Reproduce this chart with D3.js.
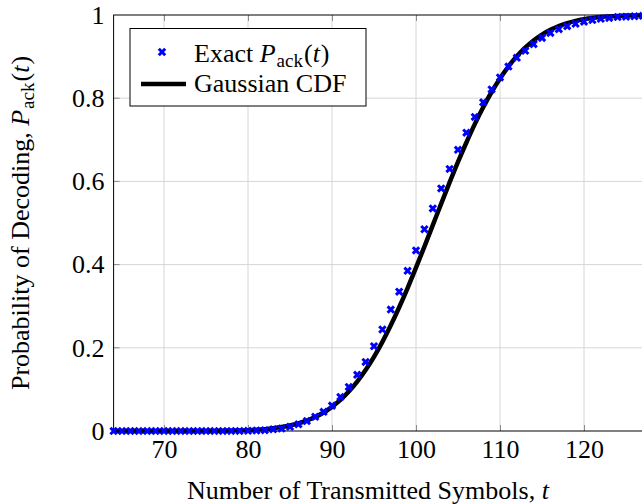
<!DOCTYPE html>
<html>
<head>
<meta charset="utf-8">
<script src="https://cdn.jsdelivr.net/npm/d3@7"></script>
<style>
  html, body { margin: 0 ; padding: 0 ; background: #ffffff ; }
  svg { display: block ; font-family: "Liberation Serif", "Times New Roman", serif ; }
</style>
</head>
<body>
<div id="chart"></div>
<script>

// transmitted symbols t
const tValues = [
    64, 65, 66, 67, 68, 69, 70, 71, 72, 73, 74, 75, 76, 77, 78, 79,
    80, 81, 82, 83, 84, 85, 86, 87, 88, 89, 90, 91, 92, 93, 94, 95,
    96, 97, 98, 99, 100, 101, 102, 103, 104, 105, 106, 107, 108, 109, 110, 111,
    112, 113, 114, 115, 116, 117, 118, 119, 120, 121, 122, 123, 124, 125, 126, 127
] ;

// exact P_ack(t) (markers)
const exactValues = [
    0, 0, 0, 0, 0, 0, 0, 0, 0, 0, 0, 0, 0, 0, 0.0001, 0.0002,
    0.0005, 0.001, 0.002, 0.004, 0.006, 0.010, 0.016, 0.024, 0.034, 0.046, 0.061, 0.082, 0.106, 0.135, 0.166, 0.204,
    0.244, 0.292, 0.335, 0.385, 0.434, 0.485, 0.535, 0.583, 0.630, 0.676, 0.717, 0.755, 0.790, 0.821, 0.850, 0.876,
    0.897, 0.914, 0.930, 0.945, 0.957, 0.966, 0.973, 0.979, 0.984, 0.988, 0.991, 0.993, 0.995, 0.996, 0.997, 0.998
] ;

// gaussian CDF approximation (line)
const gaussValues = [
    0, 0, 0, 0, 0, 0.00001, 0.00002, 0.00003, 0.00005, 0.00008, 0.00013, 0.0002, 0.0003, 0.0006, 0.0009, 0.0013,
    0.0021, 0.0031, 0.0045, 0.0066, 0.0094, 0.0132, 0.0183, 0.0249, 0.0335, 0.0445, 0.0581, 0.0747, 0.0948, 0.1186, 0.1464, 0.1783,
    0.2142, 0.2540, 0.2974, 0.3436, 0.3925, 0.4431, 0.4948, 0.5466, 0.5975, 0.6469, 0.6936, 0.7377, 0.7781, 0.8149, 0.8476, 0.8761,
    0.9007, 0.9216, 0.9389, 0.9530, 0.9645, 0.9735, 0.9805, 0.9859, 0.9900, 0.9930, 0.9951, 0.9967, 0.9978, 0.9985, 0.9990, 0.9994
] ;

const xTicks = [70, 80, 90, 100, 110, 120] ;
const yTicks = [0, 0.2, 0.4, 0.6, 0.8, 1] ;
const xDomain = [64, 127] ;
const yDomain = [0, 1] ;

const width = 642, height = 504 ;
const plot = { left : 113.6, right : 642.8, top : 15, bottom : 431 } ;
const fontSize = 26 ;

const exactData = tValues.map((t, i) => ({ t : t, p : exactValues[i] })) ;
const gaussData = tValues.map((t, i) => ({ t : t, p : gaussValues[i] })) ;

var xScale = d3.scaleLinear().domain(xDomain).range([plot.left, plot.right]) ;
var yScale = d3.scaleLinear().domain(yDomain).range([plot.bottom, plot.top]) ;

let svg = d3.select("#chart")
    .append("svg")
    .attr("width", width)
    .attr("height", height) ;

// grid
svg.append("g")
    .selectAll("line")
    .data(xTicks)
    .enter()
    .append("line")
    .attr("x1", d => xScale(d)).attr("x2", d => xScale(d))
    .attr("y1", plot.top).attr("y2", plot.bottom)
    .attr("stroke", "#d6d6d6").attr("stroke-width", 1) ;

svg.append("g")
    .selectAll("line")
    .data(yTicks.slice(1, -1))
    .enter()
    .append("line")
    .attr("x1", plot.left).attr("x2", plot.right)
    .attr("y1", d => yScale(d)).attr("y2", d => yScale(d))
    .attr("stroke", "#d6d6d6").attr("stroke-width", 1) ;

// axes (inner ticks, pgfplots style)
svg.append("g")
    .attr("transform", `translate(0, ${plot.bottom})`)
    .call(d3.axisBottom(xScale).tickValues(xTicks).tickSizeInner(-6).tickSizeOuter(0).tickPadding(9))
    .call(g => g.select(".domain").remove())
    .call(g => g.selectAll(".tick line").attr("stroke", "#8c8c8c"))
    .call(g => g.selectAll(".tick text").attr("font-size", fontSize + "px").attr("font-family", "Liberation Serif").attr("fill", "#000")) ;

svg.append("g")
    .attr("transform", `translate(0, ${plot.top})`)
    .call(d3.axisTop(xScale).tickValues(xTicks).tickSizeInner(-6).tickSizeOuter(0).tickFormat(""))
    .call(g => g.select(".domain").remove())
    .call(g => g.selectAll(".tick line").attr("stroke", "#8c8c8c")) ;

svg.append("g")
    .attr("transform", `translate(${plot.left}, 0)`)
    .call(d3.axisLeft(yScale).tickValues(yTicks).tickSizeInner(0).tickSizeOuter(0).tickPadding(9).tickFormat(d => d === 0 || d === 1 ? d3.format("d")(d) : d3.format(".1f")(d)))
    .call(g => g.select(".domain").remove())
    .call(g => g.selectAll(".tick text").attr("font-size", fontSize + "px").attr("font-family", "Liberation Serif").attr("fill", "#000")) ;

svg.append("g")
    .selectAll("line")
    .data(yTicks.slice(1, -1))
    .enter()
    .append("line")
    .attr("x1", plot.left).attr("x2", plot.left + 6)
    .attr("y1", d => yScale(d)).attr("y2", d => yScale(d))
    .attr("stroke", "#8c8c8c") ;

// frame
svg.append("rect")
    .attr("x", plot.left).attr("y", plot.top)
    .attr("width", plot.right - plot.left).attr("height", plot.bottom - plot.top)
    .attr("fill", "none").attr("stroke", "#000").attr("stroke-width", 1) ;

// gaussian line
svg.append("path")
    .datum(gaussData)
    .attr("fill", "none")
    .attr("stroke", "#000")
    .attr("stroke-width", 4.5)
    .attr("d", d3.line().x(d => xScale(d.t)).y(d => yScale(d.p)).curve(d3.curveMonotoneX)) ;

// exact markers
const cross = "M-3.2,-3.2L3.2,3.2M-3.2,3.2L3.2,-3.2" ;
svg.append("g")
    .selectAll("path")
    .data(exactData)
    .enter()
    .append("path")
    .attr("transform", d => `translate(${xScale(d.t)}, ${yScale(d.p)})`)
    .attr("d", cross)
    .attr("stroke", "#0000ff")
    .attr("stroke-width", 3)
    .attr("fill", "none") ;

// P_ack(t) as tspans
function pack(txt) {
    txt.append("tspan").attr("font-style", "italic").text("P") ;
    txt.append("tspan").attr("font-size", "19px").attr("dx", 1).attr("dy", 5).text("ack") ;
    txt.append("tspan").attr("dy", -5).attr("dx", 1).text("(") ;
    txt.append("tspan").attr("font-style", "italic").text("t") ;
    txt.append("tspan").attr("dx", 1).text(")") ;
}

// axis labels
let xl = svg.append("text")
    .attr("x", 187)
    .attr("y", 499)
    .attr("font-size", fontSize + "px") ;
xl.append("tspan").text("Number of Transmitted Symbols, ") ;
xl.append("tspan").attr("font-style", "italic").text("t") ;

let yl = svg.append("text")
    .attr("transform", `translate(29, ${(plot.top + plot.bottom) / 2}) rotate(-90)`)
    .attr("text-anchor", "middle")
    .attr("font-size", fontSize + "px") ;
yl.append("tspan").text("Probability of Decoding, ") ;
pack(yl) ;

// legend
let lg = svg.append("g") ;
lg.append("rect")
    .attr("x", 130).attr("y", 28.5)
    .attr("width", 236).attr("height", 77.5)
    .attr("fill", "#fff").attr("stroke", "#000").attr("stroke-width", 1) ;
lg.append("path")
    .attr("transform", "translate(162, 52)")
    .attr("d", cross)
    .attr("stroke", "#0000ff").attr("stroke-width", 3) ;
lg.append("line")
    .attr("x1", 141).attr("x2", 186).attr("y1", 84).attr("y2", 84)
    .attr("stroke", "#000").attr("stroke-width", 4.5) ;

let l1 = lg.append("text").attr("x", 194).attr("y", 61.5).attr("font-size", fontSize + "px") ;
l1.append("tspan").text("Exact ") ;
pack(l1) ;

lg.append("text").attr("x", 194).attr("y", 92.3).attr("font-size", fontSize + "px").text("Gaussian CDF") ;

</script>
</body>
</html>
